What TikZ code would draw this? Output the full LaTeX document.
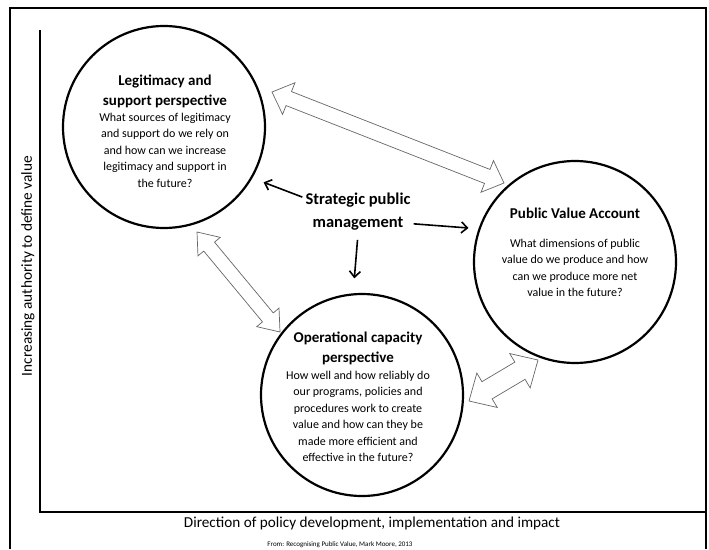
\documentclass[tikz,border=0pt]{standalone}
\usepackage{fontspec}
\setmainfont{Carlito}
\usetikzlibrary{positioning,calc,arrows.meta}

% two-headed block arrow: ends, head length, head half width, shaft half width
\newcommand{\twoway}[5]{%
  \draw[blockarrow] (#1)
    -- ($(#1)!#3!(#2)!#4!90:(#2)$)
    -- ($(#1)!#3!(#2)!#5!90:(#2)$)
    -- ($(#2)!#3!(#1)!#5!-90:(#1)$)
    -- ($(#2)!#3!(#1)!#4!-90:(#1)$)
    -- (#2)
    -- ($(#2)!#3!(#1)!#4!90:(#1)$)
    -- ($(#2)!#3!(#1)!#5!90:(#1)$)
    -- ($(#1)!#3!(#2)!#5!-90:(#2)$)
    -- ($(#1)!#3!(#2)!#4!-90:(#2)$)
    -- cycle;}

\begin{document}
\begin{tikzpicture}[x=1pt,y=-1pt,
  perspective/.style={
    circle,
    line width=2.2pt,
    draw=black,
    minimum size=202pt,
    inner sep=0pt
  },
  heading/.style={
    align=center,
    inner sep=0pt,
    font=\fontsize{15}{20}\selectfont\bfseries
  },
  question/.style={
    align=center,
    inner sep=0pt,
    font=\fontsize{12}{16.5}\selectfont
  },
  pointer/.style={
    line width=1.6pt,
    -{Straight Barb[length=6pt,width=11pt]}
  },
  blockarrow/.style={
    draw=black!60,
    fill=white,
    line width=0.7pt,
    line join=miter
  },
  axis/.style={line width=1.8pt}]

  \useasboundingbox (0,0) rectangle (709,549);
  % frame
  \draw[line width=1.8pt] (10,549) -- (10,8) -- (706,8) -- (706,549);
  % axes
  \coordinate (ytop) at (40,30);
  \coordinate (origin) at (40,512);
  \coordinate (xend) at (706,512);
  \draw[axis] (ytop) -- (origin) -- (xend);
  \node[font=\fontsize{15.3}{17}\selectfont,rotate=90] (ylabel) at (28,266) {Increasing authority to define value};
  \node[font=\fontsize{15.2}{17}\selectfont] (xlabel) at (372,523) {Direction of policy development, implementation and impact};
  \node[font=\fontsize{7}{8}\selectfont] (source) at (340,545) {From: Recognising Public Value, Mark Moore, 2013};

  % perspectives
  \node[perspective] (leg) at (164,127) {};
  \node[perspective] (pv) at (575,262) {};
  \node[perspective] (op) at (362,395) {};

  \node[heading] (legtitle) at (165,91) {Legitimacy and\\support perspective};
  \node[question,below=5pt of legtitle] (legbody) {What sources of legitimacy\\and support do we rely on\\and how can we increase\\legitimacy and support in\\the future?};

  \node[heading] (pvtitle) at (575,213) {Public Value Account};
  \node[question,below=20pt of pvtitle] (pvbody) {What dimensions of public\\value do we produce and how\\can we produce more net\\value in the future?};

  \node[heading] (optitle) at (358,348) {Operational capacity\\perspective};
  \node[question,below=6pt of optitle] (opbody) {How well and how reliably do\\our programs, policies and\\procedures work to create\\value and how can they be\\made more efficient and\\effective in the future?};

  % centre
  \node[heading,inner sep=3pt,font=\fontsize{16.5}{23}\selectfont\bfseries] (strat) at (358,212) {Strategic public\\management};
  \draw[pointer,shorten >=12pt] (strat.165) -- (leg.-30);
  \draw[pointer,shorten >=10pt] (strat.-12) -- (pv.161);
  \draw[pointer,shorten <=6pt,shorten >=15pt] (strat.south) -- (op.95);

  % links between perspectives
  \coordinate (legpv) at (272,92);
  \coordinate (pvleg) at (504,183);
  \coordinate (legop) at (197,232);
  \coordinate (opleg) at (280,332);
  \coordinate (oppv) at (469,401);
  \coordinate (pvop) at (538,360);
  \twoway{legpv}{pvleg}{18pt}{17pt}{7.5pt}
  \twoway{legop}{opleg}{19pt}{14.5pt}{7pt}
  \twoway{oppv}{pvop}{21pt}{20pt}{10pt}

\end{tikzpicture}
\end{document}
